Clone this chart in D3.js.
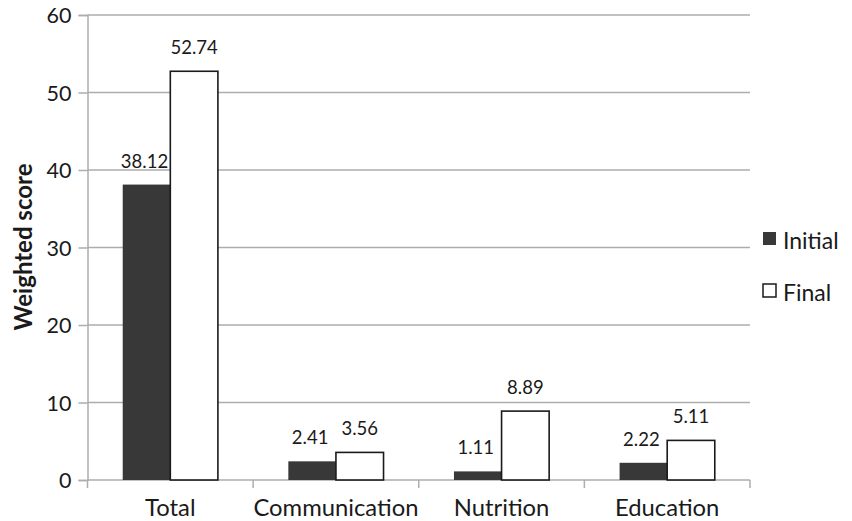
<!DOCTYPE html>
<html>
<head>
<meta charset="utf-8">
<script src="https://cdn.jsdelivr.net/npm/d3@7"></script>
<style>
  html, body { margin: 0; padding: 0; background: #fff; }
  svg { display: block; }
  text { font-family: Lato, "Open Sans", sans-serif; fill: #1a1a1a; }
</style>
</head>
<body>
<svg id="chart" width="852" height="521"></svg>
<script>
// Weighted scores per domain, before and after
const categories = ["Total", "Communication", "Nutrition", "Education"];
const seriesNames = ["Initial", "Final"];
const initialValues = [38.12, 2.41, 1.11, 2.22];
const finalValues = [52.74, 3.56, 8.89, 5.11];
const yTicks = [0, 10, 20, 30, 40, 50, 60];
const yTitle = "Weighted score";

const svg = d3.select("#chart");
const plot = { left: 87.5, right: 750, top: 15, bottom: 480 };

const x = d3.scaleBand().domain(categories).range([plot.left, plot.right]).padding(0);
const xs = d3.scaleBand().domain(seriesNames).range([0, x.bandwidth()])
  .paddingInner(0).paddingOuter(0.74);
const y = d3.scaleLinear().domain([0, 60]).range([plot.bottom, plot.top]);

const fills = { Initial: "#383838", Final: "#ffffff" };
const gridColor = "#adadad";

// horizontal gridlines
svg.append("g").selectAll("line").data(yTicks.filter(t => t > 0)).join("line")
  .attr("x1", plot.left).attr("x2", plot.right)
  .attr("y1", d => y(d)).attr("y2", d => y(d))
  .attr("stroke", gridColor).attr("stroke-width", 1.5);

// y axis
const yAxis = svg.append("g").attr("transform", `translate(${plot.left},0)`)
  .call(d3.axisLeft(y).tickValues(yTicks).tickSize(9).tickPadding(7));
yAxis.select(".domain").attr("stroke", gridColor).attr("stroke-width", 1.5);
yAxis.selectAll(".tick line").attr("stroke", gridColor).attr("stroke-width", 1.5);
yAxis.selectAll(".tick text").attr("font-size", 21.5).attr("font-family", "Lato, sans-serif")
  .attr("fill", "#1a1a1a").attr("dy", "0.36em");

// x axis with ticks on the band boundaries
const xAxisG = svg.append("g").attr("transform", `translate(0,${plot.bottom})`);
xAxisG.append("line").attr("x1", plot.left).attr("x2", plot.right)
  .attr("stroke", gridColor).attr("stroke-width", 1.5);
const bounds = categories.map(c => x(c)).concat([x(categories[categories.length - 1]) + x.bandwidth()]);
xAxisG.selectAll("line.tk").data(bounds).join("line").attr("class", "tk")
  .attr("x1", d => d).attr("x2", d => d).attr("y1", 0).attr("y2", 8)
  .attr("stroke", gridColor).attr("stroke-width", 1.5);
xAxisG.selectAll("text").data(categories).join("text")
  .attr("x", d => x(d) + x.bandwidth() / 2).attr("y", 36)
  .attr("text-anchor", "middle").attr("font-size", 23.8).text(d => d);

// bars
const rows = categories.map((c, i) => ({ cat: c, Initial: initialValues[i], Final: finalValues[i] }));
const groups = svg.append("g").selectAll("g").data(rows).join("g")
  .attr("transform", d => `translate(${x(d.cat)},0)`);
const bars = groups.selectAll("g").data(d => seriesNames.map(s => ({ s, v: d[s] }))).join("g");
bars.append("rect")
  .attr("x", d => xs(d.s)).attr("width", xs.bandwidth())
  .attr("y", d => y(d.v)).attr("height", d => y(0) - y(d.v))
  .attr("fill", d => fills[d.s])
  .attr("stroke", d => d.s === "Final" ? "#1a1a1a" : "none")
  .attr("stroke-width", 1.6);
bars.append("text")
  .attr("x", d => xs(d.s) + xs.bandwidth() / 2 - (d.s === "Initial" ? 2 : 0))
  .attr("y", d => y(d.v) - 17)
  .attr("text-anchor", "middle").attr("font-size", 18.5)
  .text(d => d.v.toFixed(2));

// y axis title
svg.append("text")
  .attr("transform", "translate(32,247) rotate(-90)")
  .attr("text-anchor", "middle").attr("font-size", 24).attr("font-weight", "bold")
  .text(yTitle);

// legend
const legend = svg.append("g").selectAll("g").data(seriesNames).join("g")
  .attr("transform", (d, i) => `translate(763,${232 + i * 52})`);
legend.append("rect").attr("width", 13).attr("height", 13)
  .attr("fill", d => fills[d]).attr("stroke", d => d === "Final" ? "#1a1a1a" : "none")
  .attr("stroke-width", 1.5);
legend.append("text").attr("x", 20).attr("y", 16.5).attr("font-size", 23).text(d => d);
</script>
</body>
</html>
